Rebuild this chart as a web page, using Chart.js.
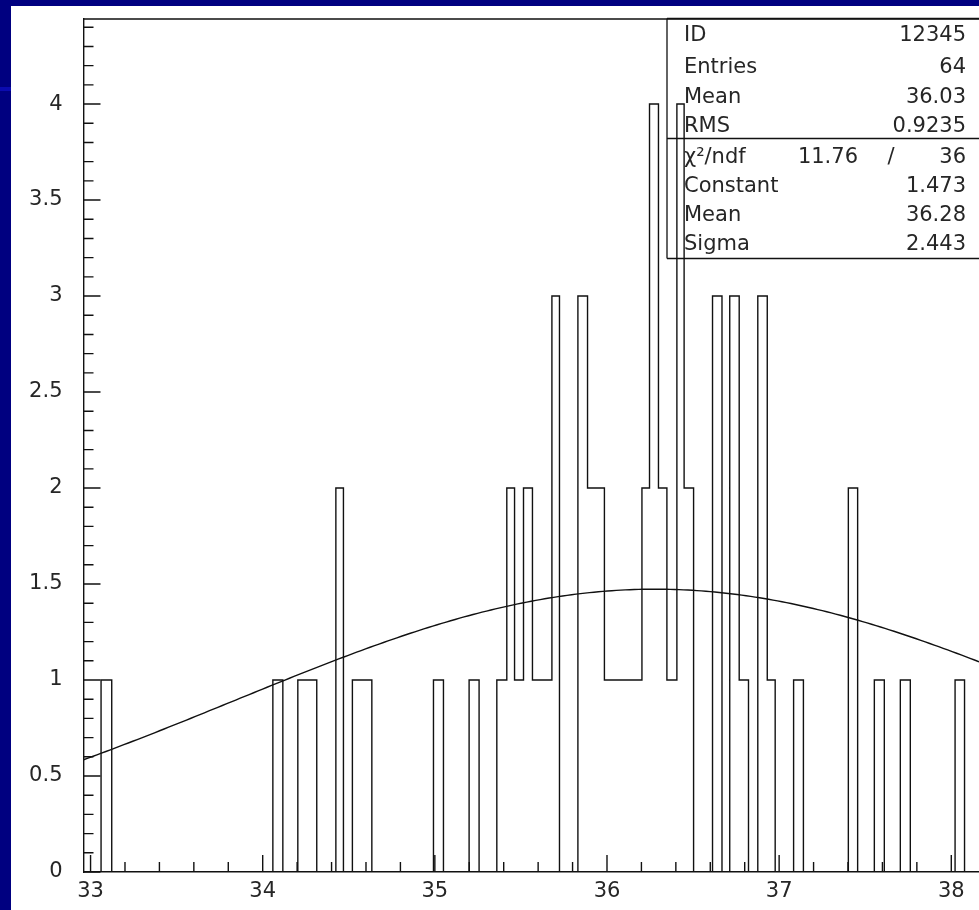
<!DOCTYPE html>
<html>
<head>
<meta charset="utf-8">
<title>Histogram 12345</title>
<script src="https://cdn.jsdelivr.net/npm/chart.js@4/dist/chart.umd.min.js"></script>
<style>
  html, body { margin: 0; padding: 0; width: 979px; height: 910px; overflow: hidden; background: #000080; }
  #panel { position: absolute; left: 11px; top: 6px; width: 968px; height: 904px; background: #ffffff; }
  #band { position: absolute; left: 0; top: 87px; width: 11px; height: 4px; background: #0b0bb0; }
  canvas { position: absolute; left: 0; top: 0; }
</style>
</head>
<body>
<div id="band"></div>
<div id="panel"></div>
<canvas id="hist" width="979" height="910"></canvas>
<script>
// Histogram 12345: bin edges and bin contents (variable-width bins)
const binEdges = [
  32.959, 33.061, 33.123, 34.059, 34.117, 34.204, 34.314, 34.425, 34.469, 34.521,
  34.634, 34.992, 35.050, 35.199, 35.257, 35.360, 35.418, 35.463, 35.515, 35.567,
  35.680, 35.724, 35.831, 35.887, 35.985, 36.203, 36.247, 36.299, 36.348, 36.406,
  36.448, 36.503, 36.613, 36.668, 36.713, 36.768, 36.822, 36.876, 36.931, 36.977,
  37.084, 37.141, 37.402, 37.456, 37.553, 37.611, 37.704, 37.762, 38.022, 38.077,
  38.161
];
const binCounts = [
  0, 1, 0, 1, 0, 1, 0, 2, 0, 1,
  0, 1, 0, 1, 0, 1, 2, 1, 2, 1,
  3, 0, 3, 2, 1, 2, 4, 2, 1, 4,
  2, 0, 3, 0, 3, 1, 0, 3, 1, 0,
  1, 0, 2, 0, 1, 0, 1, 0, 1, 0
];

// Axis ranges and labelled ticks
const xRange = [32.959, 38.161];
const yRange = [0, 4.443];
const xTickValues = [33, 34, 35, 36, 37, 38];
const xTickLabels = ['33', '34', '35', '36', '37', '38'];
const yTickValues = [0, 0.5, 1, 1.5, 2, 2.5, 3, 3.5, 4];
const yTickLabels = ['0', '0.5', '1', '1.5', '2', '2.5', '3', '3.5', '4'];

// Statistics box
const statNames = ['ID', 'Entries', 'Mean', 'RMS'];
const statValues = ['12345', '64', '36.03', '0.9235'];
const chi2Value = '11.76';
const ndfValue = '36';
const fitNames = ['Constant', 'Mean', 'Sigma'];
const fitValues = [1.473, 36.28, 2.443];
const fitLabels = ['1.473', '36.28', '2.443'];

// Outline of the histogram as a step line
const histPoints = binCounts.map((c, i) => ({ x: binEdges[i], y: c }));
histPoints.push({ x: binEdges[binEdges.length - 1], y: 0 });

// Gaussian fit curve from the fitted parameters
const [fitConst, fitMean, fitSigma] = fitValues;
const fitPoints = [];
const nSamples = 200;
for (let i = 0; i <= nSamples; i++) {
  const x = xRange[0] + (xRange[1] - xRange[0]) * i / nSamples;
  fitPoints.push({ x, y: fitConst * Math.exp(-0.5 * Math.pow((x - fitMean) / fitSigma, 2)) });
}

const INK = '#111111';
const TEXT = '#262626';
const FONT_FAMILY = '"DejaVu Sans", "Liberation Sans", sans-serif';

// Frame top edge, inward tick marks and the statistics box
const framePlugin = {
  id: 'frame',
  afterDatasetsDraw(chart) {
    const { ctx, chartArea: a, scales: { x, y } } = chart;
    ctx.save();
    ctx.strokeStyle = INK;
    ctx.lineWidth = 1.4;
    ctx.beginPath();
    ctx.moveTo(a.left, a.top);
    ctx.lineTo(a.right + 2, a.top);

    // y ticks: minor every 0.1, major every 0.5
    for (let k = 0; k * 0.1 <= yRange[1]; k++) {
      const py = y.getPixelForValue(k * 0.1);
      const len = (k % 5 === 0) ? 17 : 10;
      ctx.moveTo(a.left, py);
      ctx.lineTo(a.left + len, py);
    }
    // x ticks: minor every 0.2, major every 1
    for (let k = 0; 33 + k * 0.2 <= xRange[1]; k++) {
      const px = x.getPixelForValue(33 + k * 0.2);
      const len = (k % 5 === 0) ? 17 : 10;
      ctx.moveTo(px, a.bottom);
      ctx.lineTo(px, a.bottom - len);
    }
    ctx.stroke();

    // statistics box
    const bx = 667, top = a.top - 0.5, sep = 138.5, bottom = 258.5, right = chart.width + 5;
    ctx.lineWidth = 1.3;
    ctx.beginPath();
    ctx.moveTo(bx, top); ctx.lineTo(bx, bottom);
    ctx.moveTo(bx, top); ctx.lineTo(right, top);
    ctx.moveTo(bx, sep); ctx.lineTo(right, sep);
    ctx.moveTo(bx, bottom); ctx.lineTo(right, bottom);
    ctx.stroke();

    ctx.fillStyle = TEXT;
    ctx.font = '21px ' + FONT_FAMILY;
    ctx.textBaseline = 'alphabetic';
    const leftX = 684, rightX = 966;
    const rows = [41, 73, 103, 132, 163, 192, 221, 250];
    statNames.forEach((name, i) => {
      ctx.textAlign = 'left';
      ctx.fillText(name, leftX, rows[i]);
      ctx.textAlign = 'right';
      ctx.fillText(statValues[i], rightX, rows[i]);
    });
    ctx.textAlign = 'left';
    ctx.fillText('\u03C7\u00B2/ndf', leftX, rows[4]);
    ctx.textAlign = 'right';
    ctx.fillText(chi2Value, 858, rows[4]);
    ctx.textAlign = 'center';
    ctx.fillText('/', 891, rows[4]);
    ctx.textAlign = 'right';
    ctx.fillText(ndfValue, rightX, rows[4]);
    fitNames.forEach((name, i) => {
      ctx.textAlign = 'left';
      ctx.fillText(name, leftX, rows[5 + i]);
      ctx.textAlign = 'right';
      ctx.fillText(fitLabels[i], rightX, rows[5 + i]);
    });
    ctx.restore();
  }
};

new Chart(document.getElementById('hist'), {
  type: 'line',
  data: {
    datasets: [
      {
        label: 'ID 12345',
        data: histPoints,
        stepped: 'before',
        borderColor: INK,
        borderWidth: 1.4,
        pointRadius: 0,
        fill: false,
        order: 2
      },
      {
        label: 'gaus fit',
        data: fitPoints,
        borderColor: INK,
        borderWidth: 1.4,
        pointRadius: 0,
        fill: false,
        tension: 0,
        order: 1
      }
    ]
  },
  options: {
    responsive: false,
    animation: false,
    devicePixelRatio: 1,
    layout: { padding: { top: 19, right: 0, left: 0, bottom: 0 } },
    plugins: { legend: { display: false }, tooltip: { enabled: false } },
    scales: {
      x: {
        type: 'linear',
        min: xRange[0],
        max: xRange[1],
        afterBuildTicks: (s) => { s.ticks = xTickValues.map(v => ({ value: v })); },
        afterFit: (s) => { s.height = 38; s.paddingLeft = 0; s.paddingRight = 0; },
        grid: { display: false, drawTicks: false },
        border: { display: true, color: INK, width: 1.4 },
        ticks: {
          autoSkip: false,
          maxRotation: 0,
          padding: 7,
          color: TEXT,
          font: { family: FONT_FAMILY, size: 21 },
          callback: (v) => xTickLabels[xTickValues.indexOf(v)]
        }
      },
      y: {
        type: 'linear',
        min: yRange[0],
        max: yRange[1],
        afterBuildTicks: (s) => { s.ticks = yTickValues.map(v => ({ value: v })); },
        afterFit: (s) => { s.width = 83.5; s.paddingTop = 0; s.paddingBottom = 0; },
        grid: { display: false, drawTicks: false },
        border: { display: true, color: INK, width: 1.4 },
        ticks: {
          autoSkip: false,
          padding: 21,
          color: TEXT,
          font: { family: FONT_FAMILY, size: 21 },
          callback: (v) => yTickLabels[yTickValues.indexOf(v)]
        }
      }
    }
  },
  plugins: [framePlugin]
});
</script>
</body>
</html>
